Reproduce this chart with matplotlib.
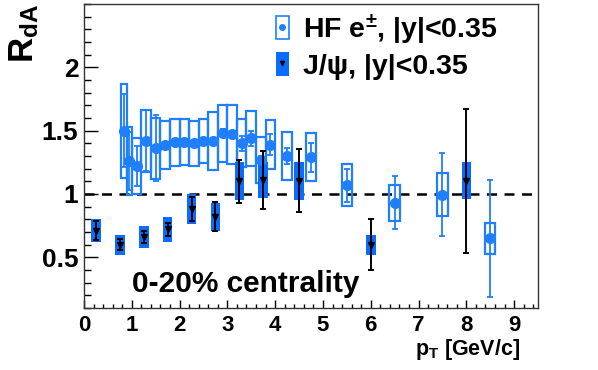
import matplotlib
matplotlib.use('Agg')
import matplotlib.pyplot as plt
from matplotlib.patches import Patch
from matplotlib.lines import Line2D
from matplotlib.ticker import MultipleLocator, FixedLocator, FuncFormatter

plt.rcParams['font.family'] = ['Liberation Sans', 'DejaVu Sans']
plt.rcParams['font.weight'] = 'bold'
plt.rcParams['mathtext.fontset'] = 'custom'
plt.rcParams['mathtext.rm'] = 'Liberation Sans:bold'
plt.rcParams['mathtext.bf'] = 'Liberation Sans:bold'
plt.rcParams['mathtext.default'] = 'bf'

# heavy flavour electrons
hf_pt = [0.83, 0.95, 1.1, 1.3, 1.5, 1.7, 1.9, 2.1, 2.3, 2.5, 2.7, 2.9, 3.1, 3.3, 3.5,
         3.7, 3.9, 4.25, 4.75, 5.5, 6.5, 7.5, 8.5]
hf_r = [1.50, 1.26, 1.22, 1.42, 1.36, 1.39, 1.41, 1.41, 1.40, 1.42, 1.42, 1.48, 1.47,
        1.40, 1.44, 1.27, 1.39, 1.30, 1.29, 1.07, 0.93, 0.995, 0.65]
hf_stat = [0.29, 0.23, 0.16, 0.24, 0.26, 0.02, 0.02, 0.02, 0.02, 0.02, 0.02, 0.03, 0.03,
           0.06, 0.06, 0.03, 0.085, 0.06, 0.115, 0.13, 0.21, 0.33, 0.46]
hf_sys = [0.37, 0.265, 0.22, 0.245, 0.24, 0.19, 0.185, 0.18, 0.175, 0.175, 0.23, 0.225,
          0.235, 0.19, 0.215, 0.18, 0.195, 0.19, 0.19, 0.165, 0.14, 0.17, 0.12]
hf_dx = [0.06, 0.06, 0.1, 0.1, 0.1, 0.1, 0.1, 0.1, 0.1, 0.1, 0.1, 0.1, 0.1, 0.1, 0.1,
         0.1, 0.1, 0.11, 0.11, 0.11, 0.11, 0.11, 0.11]

# J/psi
jp_pt = [0.25, 0.75, 1.25, 1.75, 2.25, 2.75, 3.25, 3.75, 4.5, 6.0, 8.0]
jp_r = [0.71, 0.60, 0.66, 0.72, 0.885, 0.82, 1.10, 1.11, 1.105, 0.60, 1.105]
jp_stat = [0.075, 0.045, 0.045, 0.055, 0.095, 0.115, 0.17, 0.23, 0.25, 0.20, 0.57]
jp_sys = [0.09, 0.08, 0.085, 0.095, 0.118, 0.11, 0.15, 0.14, 0.15, 0.08, 0.145]
jp_dx = [0.1] * len(jp_pt)

y_ticks = [0.5, 1, 1.5, 2]

blue_fill = '#0a6cff'
blue_line = '#1f7fff'

fig = plt.figure(figsize=(5.98, 3.70), dpi=100)
ax = fig.add_axes([84 / 598, 62 / 370, 454 / 598, 304 / 370])

ax.bar(hf_pt, [2 * s for s in hf_sys], width=[2 * d for d in hf_dx],
       bottom=[r - s for r, s in zip(hf_r, hf_sys)],
       fill=False, edgecolor=blue_line, linewidth=1.6, zorder=2)
ax.bar(jp_pt, [2 * s for s in jp_sys], width=[2 * d for d in jp_dx],
       bottom=[r - s for r, s in zip(jp_r, jp_sys)],
       color=blue_fill, linewidth=0, zorder=3)
ax.errorbar(hf_pt, hf_r, yerr=hf_stat, fmt='o', color=blue_line, ms=7,
            elinewidth=1.3, capsize=2.5, capthick=1.3, zorder=4)
ax.errorbar(jp_pt, jp_r, yerr=jp_stat, fmt='v', color='black', ms=4,
            elinewidth=1.4, capsize=2.5, capthick=1.4, zorder=5)

ax.axhline(1.0, color='black', linestyle=(0, (4, 3)), linewidth=1.8, zorder=1)

ax.set_xlim(0, 9.5)
ax.set_ylim(0.1, 2.5)
ax.xaxis.set_major_locator(MultipleLocator(1))
ax.xaxis.set_minor_locator(MultipleLocator(0.2))
ax.yaxis.set_major_locator(FixedLocator(y_ticks))
ax.yaxis.set_minor_locator(MultipleLocator(0.1))
ax.yaxis.set_major_formatter(FuncFormatter(lambda v, p: '%g' % v))
ax.tick_params(axis='x', which='major', direction='in', length=6, width=1, labelsize=16, pad=5)
ax.tick_params(axis='x', which='minor', direction='in', length=3, width=1)
ax.tick_params(axis='y', which='major', direction='in', length=10, width=1, labelsize=19, pad=4)
ax.tick_params(axis='y', which='minor', direction='in', length=5, width=1)
for sp in ax.spines.values():
    sp.set_linewidth(1.0)
    sp.set_color('#333333')

ax.text(0.105, 0.054, '0-20% centrality', transform=ax.transAxes, fontsize=21.5,
        fontweight='bold', va='baseline', ha='left')

hf_handle = (Patch(facecolor='white', edgecolor=blue_line, linewidth=1.2),
             Line2D([], [], marker='o', ls='none', color=blue_line, ms=4))
jp_handle = (Patch(facecolor=blue_fill, edgecolor='none'),
             Line2D([], [], marker='v', ls='none', color='black', ms=3))
fig.legend([hf_handle, jp_handle], [r'HF e$^{\pm}$, |y|<0.35', 'J/ψ, |y|<0.35'],
           loc='upper left', bbox_to_anchor=(276 / 598, 1 - 12 / 370),
           frameon=False, fontsize=20.5, handlelength=0.45, handleheight=0.9,
           handletextpad=0.5, labelspacing=0.2, borderpad=0, borderaxespad=0)

fig.text(24 / 598, 1 - 4 / 370, r'R$_{\mathbf{dA}}$', rotation=90, ha='center', va='top',
         fontsize=25, fontweight='bold')
fig.text(520 / 598, 1 - 355 / 370, r'p$_{\mathbf{T}}$ [GeV/c]', ha='right', va='baseline',
         fontsize=15.5, fontweight='bold')

fig.savefig('out.png', dpi=100)
